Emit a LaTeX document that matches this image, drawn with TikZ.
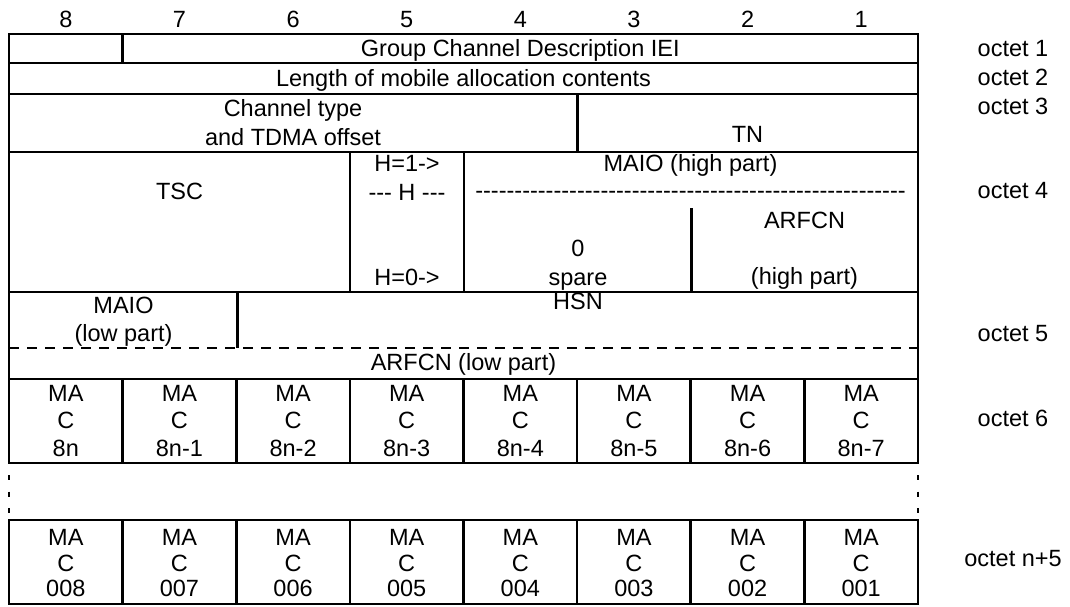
\documentclass[tikz,border=0pt]{standalone}
\usepackage{fontspec}
\setmainfont{Liberation Sans}
\newcommand\myhyE{-{}-{}-{}-{}-{}-{}-{}-{}}
\begin{document}
\begin{tikzpicture}[x=1pt,y=-1pt,
  frame/.style={line width=2.6pt},
  dsh/.style={line width=2.6pt, dash pattern=on 10pt off 8pt},
  vdsh/.style={line width=2.6pt, dash pattern=on 5pt off 11.5pt},
  txt/.style={font=\fontsize{23.5}{28}\selectfont, inner sep=0pt, anchor=base, yshift=-8.4pt}]
\useasboundingbox (0,0) rectangle (1070,606);
% frame lines
\draw[frame] (9,34) rectangle (918,463);
\foreach \y in {63,94,152,292,379} \draw[frame] (9,\y) -- (918,\y);
\draw[dsh] (9,348) -- (918,348);
\draw[frame] (122.6,34) -- (122.6,63);
\draw[frame] (577.5,94) -- (577.5,152);
\draw[frame] (350,152) -- (350,292);
\draw[frame] (464,152) -- (464,292);
\draw[frame] (691.5,208) -- (691.5,292);
\draw[frame] (237.5,292) -- (237.5,348);
\foreach \k in {1,...,7} \draw[frame] ({9+113.625*\k},379) -- ({9+113.625*\k},463);
\draw[vdsh] (9,475) -- (9,515);
\draw[vdsh] (918,475) -- (918,515);
\draw[frame] (9,520) rectangle (918,604);
\foreach \k in {1,...,7} \draw[frame] ({9+113.625*\k},520) -- ({9+113.625*\k},604);
% header bit numbers
\foreach \k in {1,...,8} \node[txt] (bit\k) at ({9+113.625*(8-\k)+56.8},19) {\k};
% octet 1-3
\node[txt] (gcd) at (520.3,48) {Group Channel Description IEI};
\node[txt] (len) at (463.5,78) {Length of mobile allocation contents};
\node[txt] (ct1) at (293,108) {Channel type};
\node[txt] (ct2) at (293,137) {and TDMA offset};
\node[txt] (tn) at (747.5,134) {TN};
% octet 4
\node[txt] (tsc) at (179.5,191) {TSC};
\node[txt] (h1) at (407,163) {H=1->};
\node[txt] (hh) at (407,192) {-{}-{}- H -{}-{}-};
\node[txt] (h0) at (407,277) {H=0->};
\node[txt] (maioh) at (690.5,163) {MAIO (high part)};
\node[txt] (hyl) at (690.5,190) {\myhyE\myhyE\myhyE\myhyE\myhyE\myhyE-{}-{}-{}-{}-{}-{}-{}};
\node[txt] (zero) at (578,248) {0};
\node[txt] (spare) at (578,277) {spare};
\node[txt] (arf) at (804.5,220) {ARFCN};
\node[txt] (arfh) at (804.5,276) {(high part)};
% octet 5
\node[txt] (maiol1) at (123.5,305) {MAIO};
\node[txt] (maiol2) at (123.5,333) {(low part)};
\node[txt] (hsn) at (578,301) {HSN};
\node[txt] (arfl) at (463.5,362) {ARFCN (low part)};
% octet 6 and n+5
\foreach \k in {0,...,7} {
  \node[txt] (ma6\k) at ({9+113.625*(\k+0.5)},393) {MA};
  \node[txt] (c6\k) at ({9+113.625*(\k+0.5)},420) {C};
  \node[txt] (n6\k) at ({9+113.625*(\k+0.5)},448) {\ifnum\k=0 8n\else 8n-\k\fi};
  \node[txt] (man\k) at ({9+113.625*(\k+0.5)},537) {MA};
  \node[txt] (cn\k) at ({9+113.625*(\k+0.5)},563) {C};
  \node[txt] (nn\k) at ({9+113.625*(\k+0.5)},588) {00\the\numexpr8-\k\relax};
}
% octet labels
\node[txt] (o1) at (1013,48) {octet 1};
\node[txt] (o2) at (1013,77) {octet 2};
\node[txt] (o3) at (1013,106) {octet 3};
\node[txt] (o4) at (1013,190) {octet 4};
\node[txt] (o5) at (1013,333) {octet 5};
\node[txt] (o6) at (1013,418) {octet 6};
\node[txt] (on5) at (1013,558) {octet n+5};
\end{tikzpicture}
\end{document}
